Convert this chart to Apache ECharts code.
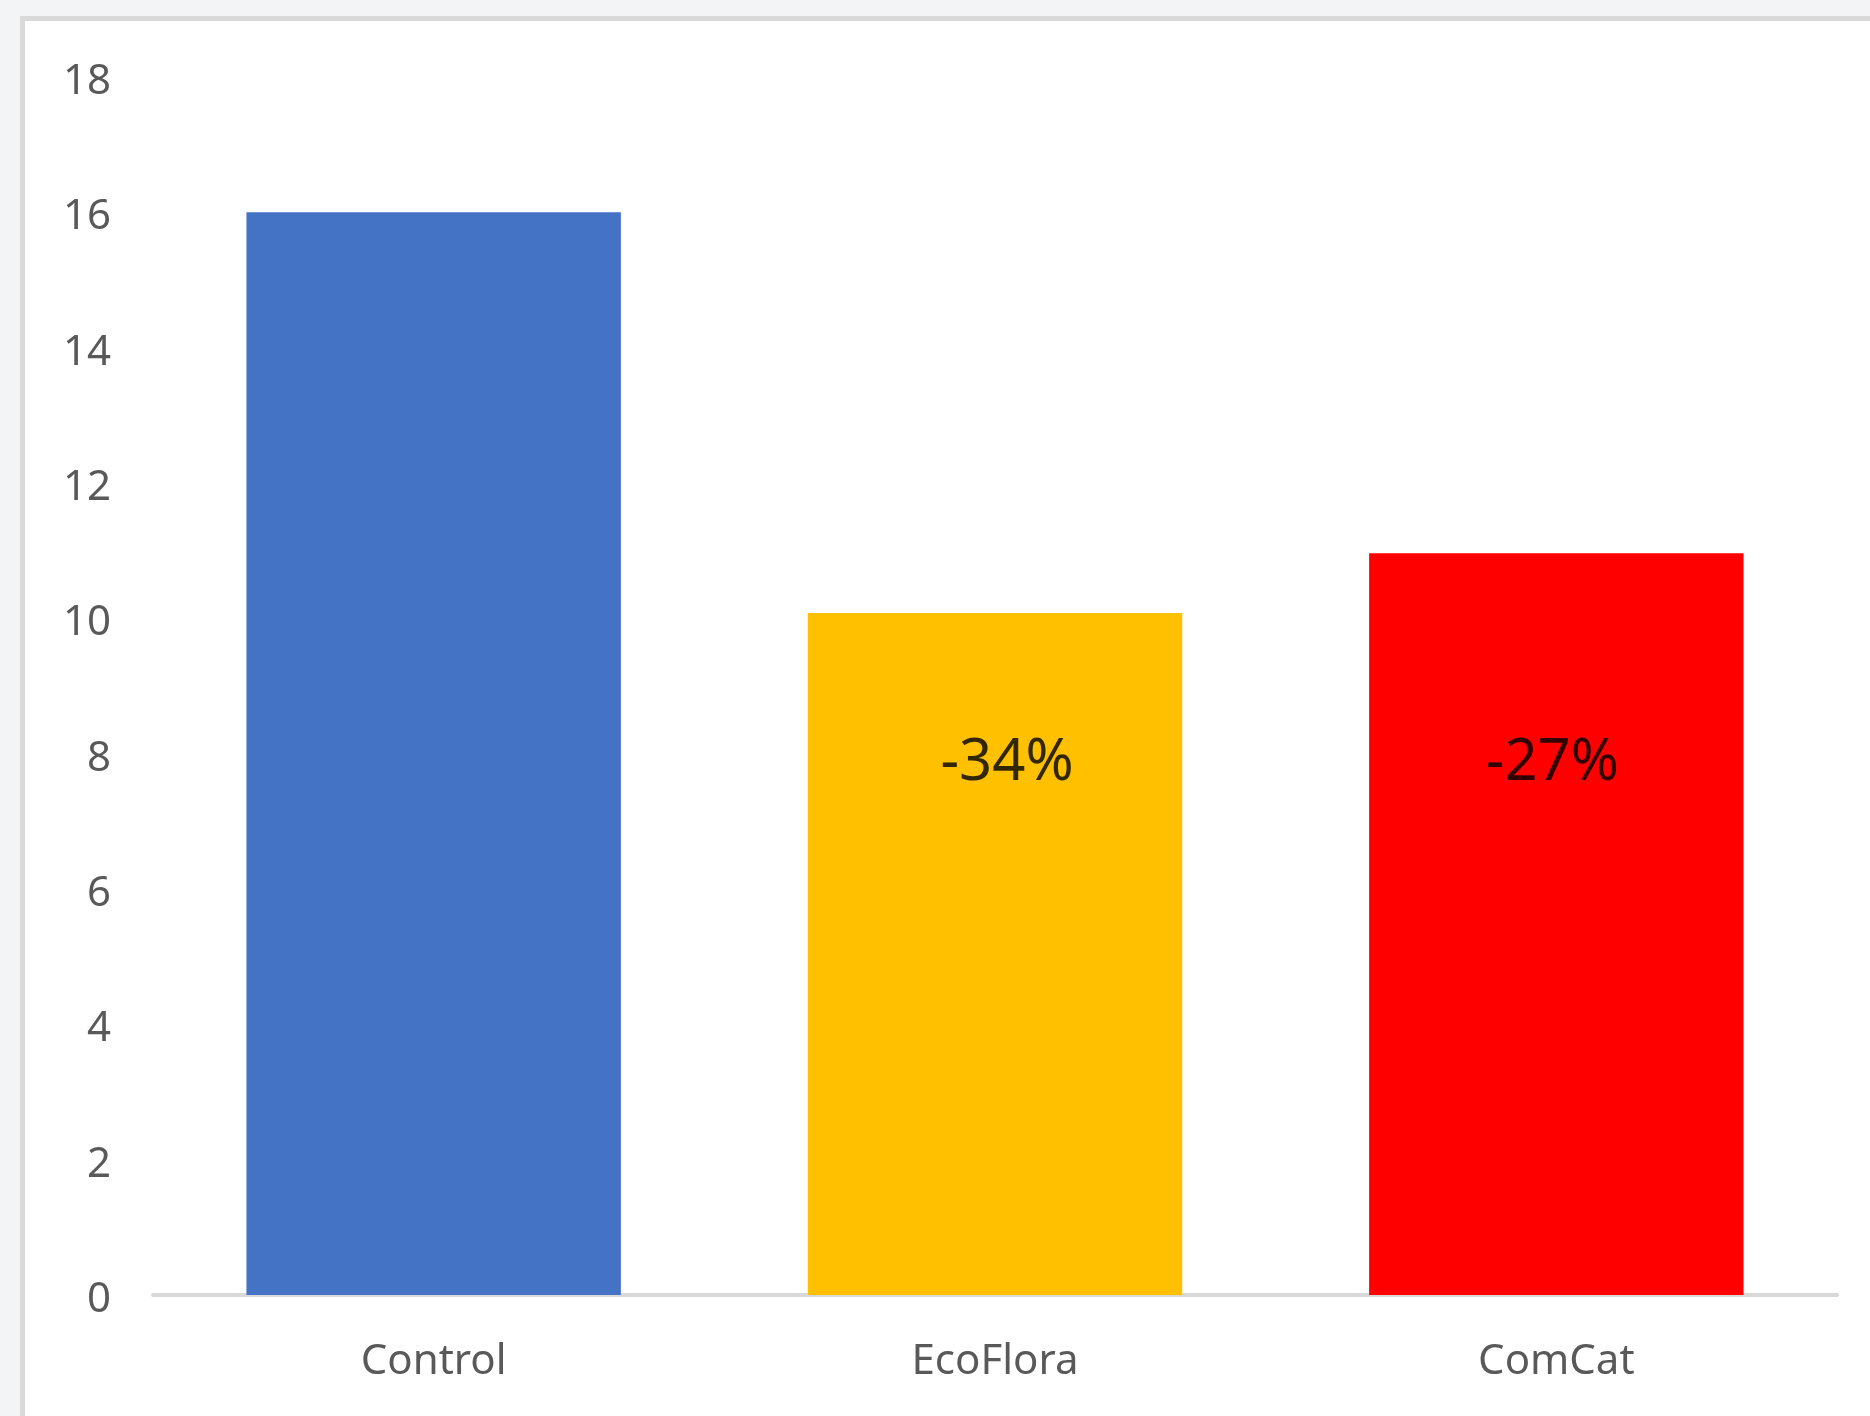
<!DOCTYPE html>
<html>
<head>
<meta charset="utf-8">
<script src="https://cdn.jsdelivr.net/npm/echarts@6/dist/echarts.min.js"></script>
<style>
  html, body { margin: 0; padding: 0; background: #f3f4f6; }
  #chart { width: 1870px; height: 1416px; }
</style>
</head>
<body>
<div id="chart"></div>
<script>
// Categories and measured values
const categories = ['Control', 'EcoFlora', 'ComCat'];
const values = [16.0, 10.08, 10.96];
const barColors = ['#4472C4', '#FFC000', '#FF0000'];

// Change relative to control, written inside the treatment bars
const changeLabels = ['', '-34%', '-27%'];
const changeLabelLevel = [null, 7.9, 7.9];
const changeLabelShift = [0, 12, -4];

// Value axis ticks
const yMin = 0;
const yMax = 18;
const yStep = 2;

const chart = echarts.init(document.getElementById('chart'), null, { renderer: 'canvas' });

chart.setOption({
  backgroundColor: '#f3f4f6',
  animation: false,
  graphic: [{
    type: 'rect',
    z: -10,
    silent: true,
    shape: { x: 22.5, y: 18.5, width: 2400, height: 2400 },
    style: { fill: '#ffffff', stroke: '#d9d9d9', lineWidth: 5 }
  }],
  grid: { left: 153, right: 33, top: 77, bottom: 121, containLabel: false },
  xAxis: {
    type: 'category',
    data: categories,
    axisLine: { show: true, lineStyle: { color: '#d9d9d9', width: 4 } },
    axisTick: { show: false },
    axisLabel: {
      color: '#595959',
      fontFamily: 'Noto Sans',
      fontSize: 42,
      margin: 46
    },
    splitLine: { show: false }
  },
  yAxis: {
    type: 'value',
    min: yMin,
    max: yMax,
    interval: yStep,
    axisLine: { show: false },
    axisTick: { show: false },
    splitLine: { show: false },
    axisLabel: {
      color: '#595959',
      fontFamily: 'Noto Sans',
      fontSize: 42,
      margin: 42,
      formatter: '{v|{value}}',
      rich: {
        v: {
          color: '#595959',
          fontFamily: 'Noto Sans',
          fontSize: 42,
          padding: [10, 0, 0, 0]
        }
      }
    }
  },
  series: [
    {
      type: 'bar',
      barCategoryGap: '33.3%',
      data: values.map((v, i) => ({ value: v, itemStyle: { color: barColors[i] } })),
      label: { show: false }
    },
    {
      type: 'scatter',
      symbolSize: 0,
      silent: true,
      z: 5,
      data: changeLabelLevel.map((v, i) => ({
        value: v,
        label: { offset: [changeLabelShift[i], 3] }
      })),
      label: {
        show: true,
        position: 'inside',
        color: '#000000',
        fontFamily: 'Noto Sans',
        fontSize: 58,
        formatter: p => changeLabels[p.dataIndex]
      }
    }
  ]
});
</script>
</body>
</html>
